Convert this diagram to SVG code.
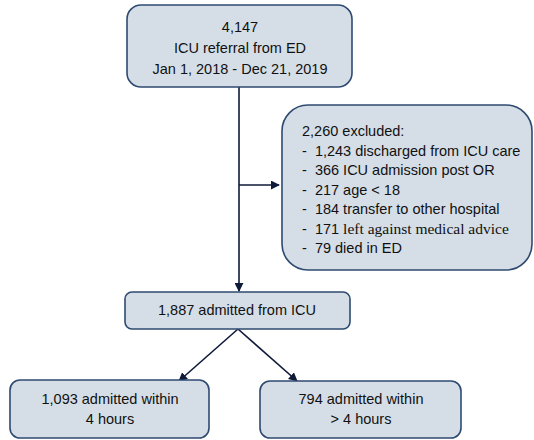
<svg xmlns="http://www.w3.org/2000/svg" width="534" height="440" viewBox="0 0 534 440">
<defs>
<style>
.box{fill:#d5dee7;stroke:#2e4a70;stroke-width:1.6}
.t{font-family:"Liberation Sans",Arial,sans-serif;font-size:14.5px;fill:#111;white-space:pre}
.c{text-anchor:middle}
.s{font-family:"Liberation Serif","Times New Roman",serif}
.ln{stroke:#0f1a3a;stroke-width:1.6;fill:none}
</style>
<marker id="ah" viewBox="0 0 10 10" refX="9" refY="5" markerWidth="9" markerHeight="9" markerUnits="userSpaceOnUse" orient="auto"><path d="M0,0 L10,5 L0,10 z" fill="#0f1a3a"/></marker>
</defs>
<g id="connectors">
<line class="ln" x1="239" y1="87" x2="239" y2="291" marker-end="url(#ah)"/>
<line class="ln" x1="239" y1="185" x2="279" y2="185" marker-end="url(#ah)"/>
<line class="ln" x1="238" y1="329" x2="179" y2="381" marker-end="url(#ah)"/>
<line class="ln" x1="238" y1="329" x2="297" y2="381" marker-end="url(#ah)"/>
</g>
<g id="referral">
<rect class="box" x="127" y="5" width="225" height="82" rx="14"/>
<text class="t c" x="240" y="32">4,147</text>
<text class="t c" x="240" y="53">ICU referral from ED</text>
<text class="t c" x="240" y="74">Jan 1, 2018 - Dec 21, 2019</text>
</g>
<g id="excluded">
<rect class="box" x="282" y="105" width="250" height="165" rx="26"/>
<text class="t" x="302" y="136">2,260 excluded:</text>
<text class="t" x="302" y="155.5">-  1,243 discharged from ICU care</text>
<text class="t" x="302" y="175">-  366 ICU admission post OR</text>
<text class="t" x="302" y="194.5">-  217 age &lt; 18</text>
<text class="t" x="302" y="214">-  184 transfer to other hospital</text>
<text class="t" x="302" y="233.5">-  171 <tspan class="s" font-size="15.5">left against medical advice</tspan></text>
<text class="t" x="302" y="253">-  79 died in ED</text>
</g>
<g id="admitted">
<rect class="box" x="125" y="292" width="225" height="37" rx="7"/>
<text class="t c" x="237" y="315">1,887 admitted from ICU</text>
</g>
<g id="within4">
<rect class="box" x="10" y="380" width="199" height="58" rx="10"/>
<text class="t c" x="110" y="404">1,093 admitted within</text>
<text class="t c" x="110" y="424">4 hours</text>
</g>
<g id="over4">
<rect class="box" x="260" y="381" width="201" height="57" rx="10"/>
<text class="t c" x="361" y="404">794 admitted within</text>
<text class="t c" x="361" y="424">&gt; 4 hours</text>
</g>
</svg>
